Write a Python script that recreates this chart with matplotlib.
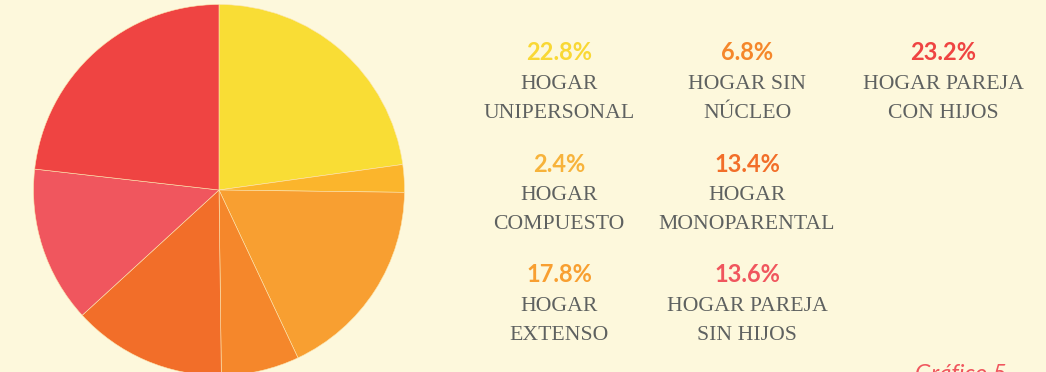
import matplotlib.pyplot as plt

# household composition shares (%)
categories = [
    "HOGAR\nUNIPERSONAL",
    "HOGAR\nCOMPUESTO",
    "HOGAR\nEXTENSO",
    "HOGAR SIN\nNÚCLEO",
    "HOGAR\nMONOPARENTAL",
    "HOGAR PAREJA\nSIN HIJOS",
    "HOGAR PAREJA\nCON HIJOS",
]
shares = [22.8, 2.4, 17.8, 6.8, 13.4, 13.6, 23.2]
colors = ["#F9DD35", "#FBB52C", "#F89F31", "#F5872B", "#F26E29", "#F0565E", "#EF4442"]
pct_colors = ["#F9D835", "#F7B33B", "#F89F31", "#F5872B", "#F26E29", "#F0565E", "#EF4442"]

# legend grid: (column, row) for each category
grid = [(0, 0), (0, 1), (0, 2), (1, 0), (1, 1), (1, 2), (2, 0)]
col_x = [559, 747, 943]
row_y = [53, 164, 275]
line_gap = 29

BG = "#FDF8DC"
W, H = 1046, 372

fig = plt.figure(figsize=(W / 100, H / 100), dpi=100, facecolor=BG)
ax = fig.add_axes([0, 0, 1, 1])
ax.set_facecolor(BG)
ax.axis("off")

ax.pie(shares, colors=colors, startangle=90, counterclock=False,
       center=(219, H - 190), radius=185.5,
       wedgeprops=dict(edgecolor="#FCE6B0", linewidth=0.4))
ax.set_xlim(0, W)
ax.set_ylim(0, H)
ax.set_aspect("equal")

for label, val, c, (ci, ri) in zip(categories, shares, pct_colors, grid):
    x = col_x[ci]
    y = H - row_y[ri]
    ax.text(x, y, f"{val:.1f}%", color=c, fontsize=17, fontfamily="Lato",
            fontweight="bold", ha="center", va="center")
    for k, line in enumerate(label.split("\n")):
        ax.text(x, y - line_gap * (k + 1), line, color="#5E6160",
                fontsize=15.7, fontfamily="Liberation Serif",
                ha="center", va="center_baseline")

ax.text(915, 8, "Gráfico 5", color="#F0565E", fontsize=17, style="italic",
        fontfamily="Lato", ha="left", va="top")

fig.savefig("out.png", dpi=100, facecolor=BG)
